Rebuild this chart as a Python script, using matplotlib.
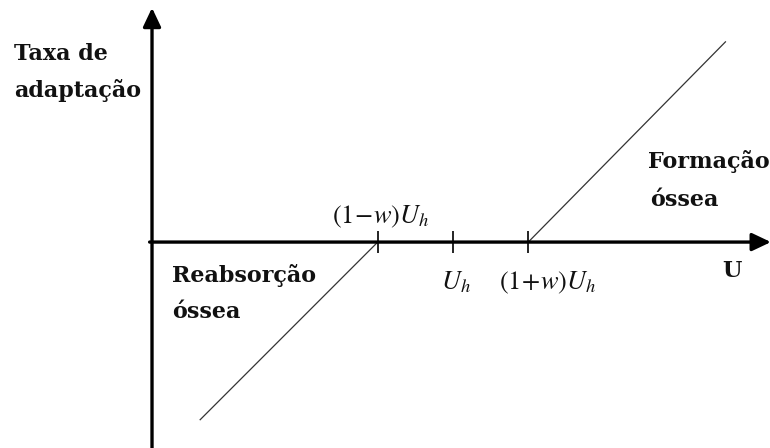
import matplotlib
matplotlib.use("Agg")
import matplotlib.pyplot as plt

# model parameters (axis units: U on x, adaptation rate on y)
U_h = 1.0
w = 0.25

# bone resorption / formation lines
reab_U = [0.16, 0.75]
reab_rate = [-0.59, 0.0]
form_U = [1.25, 1.905]
form_rate = [0.0, 0.665]

tick_U = [(1 - w) * U_h, U_h, (1 + w) * U_h]
tick_labels = [r"$(1\!-\!w)U_h$", r"$U_h$", r"$(1\!+\!w)U_h$"]

W, H = 770, 448
fig = plt.figure(figsize=(W / 100, H / 100), dpi=100)
ax = fig.add_axes([0, 0, 1, 1])
ax.set_xlim(-0.505, 2.053)
ax.set_ylim(-0.684, 0.804)
ax.axis("off")
plt.rcParams["mathtext.fontset"] = "stix"


def px(x, y):
    """pixel position in the 770x448 picture -> figure fraction"""
    return x / W, 1 - y / H


# axes with arrowheads
arrow = dict(arrowstyle="-|>,head_length=0.95,head_width=0.45", lw=2.4,
             color="black", mutation_scale=12, shrinkA=0, shrinkB=0)
ax.annotate("", xy=(2.056, 0), xytext=(-0.008, 0), arrowprops=arrow,
            annotation_clip=False)
ax.annotate("", xy=(0, 0.778), xytext=(0, -0.7), arrowprops=arrow,
            annotation_clip=False)

# the two adaptation lines
ax.plot(reab_U, reab_rate, color="#333333", lw=0.9)
ax.plot(form_U, form_rate, color="#333333", lw=0.9)

# ticks on U axis
ax.vlines(tick_U, -0.037, 0.037, color="black", lw=1.2)

bold = dict(family="DejaVu Serif", fontweight="bold", fontsize=16,
            va="baseline", color="#111111")
fig.text(*px(14, 60), "Taxa de", **bold)
fig.text(*px(14, 97), "adaptação", **bold)
fig.text(*px(172, 282), "Reabsorção", **bold)
fig.text(*px(172, 318), "óssea", **bold)
fig.text(*px(648, 168), "Formação", **bold)
fig.text(*px(650, 206), "óssea", **bold)
fig.text(*px(732, 277), "U", ha="center", **bold)

math = dict(fontsize=19, va="baseline", ha="center", color="#111111")
fig.text(*px(381, 223), tick_labels[0], **math)
fig.text(*px(456, 289), tick_labels[1], **math)
fig.text(*px(548, 289), tick_labels[2], **math)

fig.savefig("out.png", dpi=100)
